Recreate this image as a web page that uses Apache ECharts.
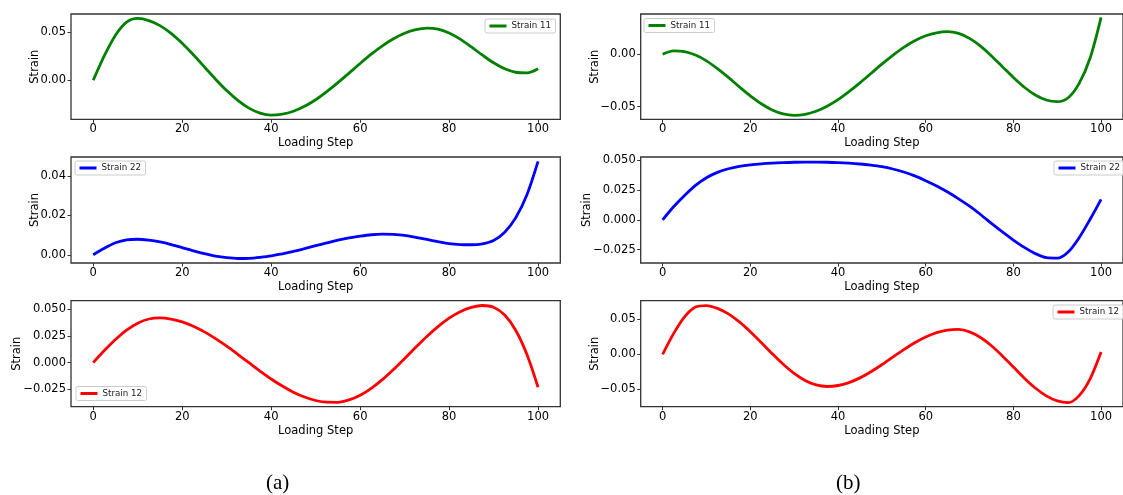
<!DOCTYPE html>
<html>
<head>
<meta charset="utf-8">
<script src="https://cdn.jsdelivr.net/npm/echarts@6/dist/echarts.min.js"></script>
<style>
  html, body { margin: 0; padding: 0; background: #ffffff; }
  #chart { width: 1123px; height: 495px; }
</style>
</head>
<body>
<div id="chart"></div>
<script>
// Loading steps at which the strain components are sampled (every 2.5 steps)
const steps = [0, 2.5, 5, 7.5, 10, 12.5, 15, 17.5, 20, 22.5, 25, 27.5, 30, 32.5, 35, 37.5, 40, 42.5, 45, 47.5, 50,
               52.5, 55, 57.5, 60, 62.5, 65, 67.5, 70, 72.5, 75, 77.5, 80, 82.5, 85, 87.5, 90, 92.5, 95, 97.5, 100];

// Case (a)
const strain11A = [0, 0.0255, 0.0467, 0.0602, 0.0640, 0.0618, 0.0566, 0.0486, 0.0383, 0.0264, 0.0138, 0.0011, -0.0107, -0.0208, -0.0288, -0.0340, -0.0360,
                   -0.0351, -0.0321, -0.0270, -0.0202, -0.0118, -0.0025, 0.0074, 0.0174, 0.0270, 0.0357, 0.0430, 0.0487, 0.0524, 0.0540,
                   0.0530, 0.0490, 0.0426, 0.0345, 0.0260, 0.0181, 0.0119, 0.0083, 0.0077, 0.0120];
const strain22A = [0, 0.0033, 0.0061, 0.0076, 0.0079, 0.0074, 0.0065, 0.0052, 0.0036, 0.0020, 0.0006, -0.0007, -0.0015, -0.0019, -0.0018, -0.0013, -0.0006,
                   0.0005, 0.0017, 0.0031, 0.0046, 0.0060, 0.0074, 0.0086, 0.0095, 0.0102, 0.0105, 0.0104, 0.0099, 0.0089, 0.0078,
                   0.0067, 0.0057, 0.0052, 0.0051, 0.0056, 0.0073, 0.0115, 0.0189, 0.0306, 0.0476];
const strain12A = [0, 0.0112, 0.0215, 0.0303, 0.0368, 0.0407, 0.0417, 0.0406, 0.0380, 0.0340, 0.0287, 0.0224, 0.0153, 0.0077, -0.0001, -0.0079, -0.0153,
                   -0.0219, -0.0276, -0.0322, -0.0354, -0.0370, -0.0371, -0.0349, -0.0305, -0.0240, -0.0159, -0.0064, 0.0038, 0.0143, 0.0244,
                   0.0336, 0.0415, 0.0475, 0.0515, 0.0533, 0.0517, 0.0444, 0.0300, 0.0076, -0.0230];

// Case (b)
const strain11B = [0, 0.0033, 0.0026, -0.0007, -0.0062, -0.0136, -0.0220, -0.0310, -0.0396, -0.0472, -0.0531, -0.0569, -0.0582, -0.0572, -0.0543, -0.0495, -0.0432,
                   -0.0356, -0.0272, -0.0183, -0.0094, -0.0010, 0.0066, 0.0129, 0.0177, 0.0206, 0.0216, 0.0200, 0.0152, 0.0078, -0.0015,
                   -0.0118, -0.0221, -0.0314, -0.0388, -0.0436, -0.0452, -0.0414, -0.0277, -0.0035, 0.0353];
const strain22B = [0, 0.0110, 0.0205, 0.0290, 0.0355, 0.0400, 0.0430, 0.0450, 0.0463, 0.0472, 0.0478, 0.0482, 0.0485, 0.0486, 0.0486, 0.0485, 0.0482,
                   0.0477, 0.0470, 0.0460, 0.0447, 0.0428, 0.0403, 0.0370, 0.0330, 0.0285, 0.0234, 0.0177, 0.0115, 0.0045, -0.0030,
                   -0.0102, -0.0170, -0.0232, -0.0284, -0.0318, -0.0322, -0.0270, -0.0150, 0.0005, 0.0173];
const strain12B = [0, 0.0296, 0.0536, 0.0676, 0.0697, 0.0657, 0.0578, 0.0463, 0.0323, 0.0168, 0.0009, -0.0142, -0.0273, -0.0374, -0.0438, -0.0460, -0.0446,
                   -0.0404, -0.0337, -0.0249, -0.0149, -0.0041, 0.0066, 0.0165, 0.0248, 0.0310, 0.0347, 0.0355, 0.0320, 0.0240, 0.0122,
                   -0.0024, -0.0183, -0.0341, -0.0482, -0.0594, -0.0665, -0.0690, -0.0590, -0.0350, 0.0033];

// Tick values
const xTicks = [0, 20, 40, 60, 80, 100];
const yTicks11A = [0, 0.05];
const yTicks22A = [0, 0.02, 0.04];
const yTicks12A = [-0.025, 0, 0.025, 0.05];
const yTicks11B = [-0.05, 0];
const yTicks22B = [-0.025, 0, 0.025, 0.05];
const yTicks12B = [-0.05, 0, 0.05];

const FONT = 'DejaVu Sans';
const GREEN = '#008000', BLUE = '#0000ff', RED = '#ff0000';

// One entry per subplot: data, axis limits and placement
const panels = [
  { name: 'Strain 11', values: strain11A, color: GREEN, ticks: yTicks11A, dec: 2, ymin: -0.0404, ymax: 0.0686,
    left: 71, top: 14, height: 105.3, nameGap: 29.5, legend: { left: 485, top: 19 } },
  { name: 'Strain 22', values: strain22A, color: BLUE, ticks: yTicks22A, dec: 2, ymin: -0.0042, ymax: 0.0498,
    left: 71, top: 157, height: 106, nameGap: 29.5, legend: { left: 75, top: 161 } },
  { name: 'Strain 12', values: strain12A, color: RED, ticks: yTicks12A, dec: 3, ymin: -0.0412, ymax: 0.0578,
    left: 71, top: 300.7, height: 106, nameGap: 48, legend: { left: 76, top: 386.5 } },
  { name: 'Strain 11', values: strain11B, color: GREEN, ticks: yTicks11B, dec: 2, ymin: -0.0620, ymax: 0.0385,
    left: 640.7, top: 14, height: 105.3, nameGap: 39.5, legend: { left: 644, top: 18.5 } },
  { name: 'Strain 22', values: strain22B, color: BLUE, ticks: yTicks22B, dec: 3, ymin: -0.0363, ymax: 0.0529,
    left: 640.7, top: 157, height: 106, nameGap: 47.5, legend: { left: 1054, top: 161 } },
  { name: 'Strain 12', values: strain12B, color: RED, ticks: yTicks12B, dec: 2, ymin: -0.0749, ymax: 0.0766,
    left: 640.7, top: 300.7, height: 106, nameGap: 39.5, legend: { left: 1053, top: 305 } }
];

const PLOT_WIDTH = 489.3;
const AXIS_COLOR = '#333333';

function fmt(dec) {
  return function (v) {
    const s = Math.abs(v).toFixed(dec);
    return (v < -1e-12 ? '\u2212' : '') + s;
  };
}

const grid = [], xAxis = [], yAxis = [], series = [], legend = [];

panels.forEach(function (p, i) {
  grid.push({
    left: p.left, top: p.top, width: PLOT_WIDTH, height: p.height,
    show: true, borderColor: AXIS_COLOR, borderWidth: 1.3, backgroundColor: 'transparent'
  });
  xAxis.push({
    type: 'value', gridIndex: i, min: -5, max: 105, position: 'bottom',
    name: 'Loading Step', nameLocation: 'middle', nameGap: 18, nameMoveOverlap: false,
    nameTextStyle: { fontFamily: FONT, fontSize: 11.5, color: '#000' },
    axisLine: { show: false, onZero: false },
    axisTick: { show: true, inside: false, length: 3.5, customValues: xTicks,
                lineStyle: { color: AXIS_COLOR, width: 1 } },
    axisLabel: { show: true, customValues: xTicks, margin: 4, fontFamily: FONT, fontSize: 11.5, color: '#000' },
    splitLine: { show: false }
  });
  yAxis.push({
    type: 'value', gridIndex: i, min: p.ymin, max: p.ymax, position: 'left',
    name: 'Strain', nameLocation: 'middle', nameGap: p.nameGap, nameMoveOverlap: false,
    nameTextStyle: { fontFamily: FONT, fontSize: 11.5, color: '#000' },
    axisLine: { show: false, onZero: false },
    axisTick: { show: true, inside: false, length: 3.5, customValues: p.ticks,
                lineStyle: { color: AXIS_COLOR, width: 1 } },
    axisLabel: { show: true, customValues: p.ticks, margin: 5, fontFamily: FONT, fontSize: 11.5, color: '#000',
                 formatter: fmt(p.dec) },
    splitLine: { show: false }
  });
  series.push({
    type: 'line', name: p.name, xAxisIndex: i, yAxisIndex: i,
    data: steps.map(function (s, k) { return [s, p.values[k]]; }),
    smooth: 0.3, showSymbol: false, symbol: 'none',
    color: p.color,
    lineStyle: { color: p.color, width: 2.8 }
  });
  legend.push({
    data: [{ name: p.name, icon: 'rect' }],
    left: p.legend.left, top: p.legend.top,
    orient: 'vertical',
    itemWidth: 17, itemHeight: 3,
    padding: [2.5, 4.5],
    backgroundColor: 'rgba(255,255,255,0.85)',
    borderColor: '#cccccc', borderWidth: 1, borderRadius: 2,
    textStyle: { fontFamily: FONT, fontSize: 8.7, color: '#222' },
    selectedMode: false
  });
});

const chart = echarts.init(document.getElementById('chart'), null, { renderer: 'canvas' });
chart.setOption({
  animation: false,
  backgroundColor: '#ffffff',
  grid: grid,
  xAxis: xAxis,
  yAxis: yAxis,
  series: series,
  legend: legend,
  graphic: [
    { type: 'text', left: 266, top: 473,
      style: { text: '(a)', fontFamily: 'Liberation Serif', fontSize: 21, fill: '#000' } },
    { type: 'text', left: 836, top: 473,
      style: { text: '(b)', fontFamily: 'Liberation Serif', fontSize: 21, fill: '#000' } }
  ]
});
</script>
</body>
</html>
